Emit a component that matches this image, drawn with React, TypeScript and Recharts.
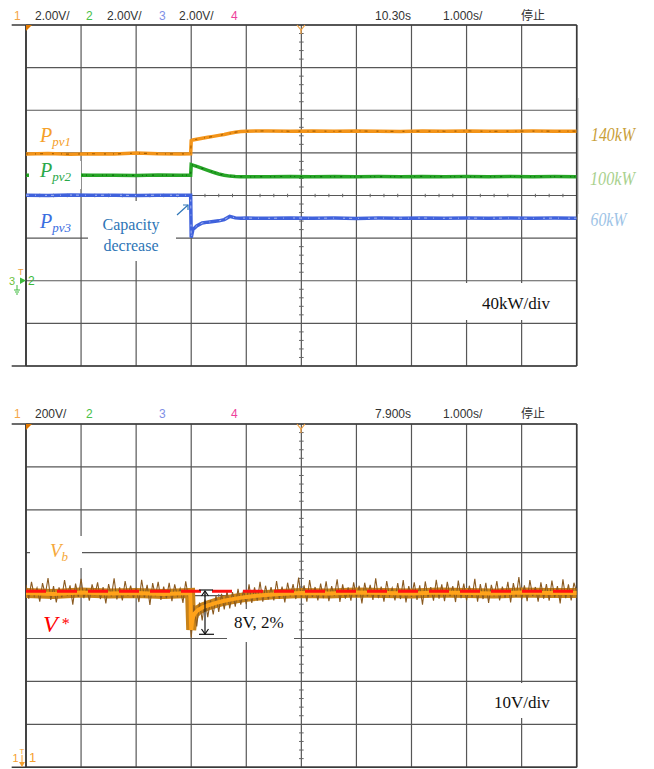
import React from 'react';
import { CartesianGrid, Line, LineChart, ReferenceLine, XAxis, YAxis } from 'recharts';

// time base 1 s/div, 10 divisions across
const divTicks = [0, 1, 2, 3, 4, 5, 6, 7, 8, 9, 10];

// upper scope: PV powers, 40kW/div
const kwTicks = [-80, -40, 0, 40, 80, 120, 160, 200, 240];
const topTime = [0, 0.4, 0.8, 1.2, 1.6, 2.0, 2.4, 2.8, 2.99, 3.0, 3.03, 3.1, 3.2, 3.3, 3.4, 3.5, 3.6, 3.7, 3.8, 3.9, 4.0, 4.4, 4.8, 5.2, 5.6, 6.0, 6.4, 6.8, 7.2, 7.6, 8.0, 8.4, 8.8, 9.2, 9.6, 10.0];
const ppv1 = [119.0, 119.3, 118.8, 119.2, 119.0, 119.8, 119.1, 119.0, 119.2, 131.5, 132.1, 132.8, 133.8, 134.6, 135.5, 136.4, 137.3, 138.4, 139.4, 140.0, 140.4, 140.6, 140.3, 140.5, 140.2, 140.6, 140.4, 140.1, 140.5, 140.3, 140.6, 140.2, 140.4, 140.5, 140.3, 140.4];
const ppv2 = [99.1, 98.9, 99.2, 99.0, 99.1, 98.8, 99.2, 99.0, 99.1, 109.0, 108.5, 107.3, 105.5, 103.6, 101.8, 100.2, 99.0, 98.2, 97.8, 97.6, 97.5, 97.7, 97.9, 97.6, 97.8, 97.5, 97.8, 97.7, 97.9, 97.6, 97.8, 97.7, 97.9, 97.6, 97.8, 97.7];
const ppv3 = [80.3, 80.1, 80.4, 80.2, 80.3, 80.0, 80.3, 80.2, 80.3, 40.5, 48.0, 51.5, 54.2, 55.0, 55.6, 56.2, 57.4, 60.4, 59.0, 58.7, 58.8, 58.6, 58.9, 58.7, 58.8, 58.5, 58.8, 58.7, 58.9, 58.6, 58.8, 58.7, 58.9, 58.6, 58.8, 58.7];

// lower scope: bus voltage, 10V/div
const voltTicks = [359, 369, 379, 389, 399, 409, 419, 429, 439];
const vbTime = [0, 0.5, 1, 1.5, 2, 2.5, 2.98, 3.0, 3.02, 3.06, 3.12, 3.2, 3.3, 3.45, 3.6, 3.8, 4.0, 4.3, 4.6, 5.0, 5.5, 6, 6.5, 7, 7.5, 8, 8.5, 9, 9.5, 10];
const vbBand = [399.6, 399.4, 399.7, 399.5, 399.6, 399.4, 399.6, 391.0, 393.5, 394.8, 395.6, 396.2, 396.7, 397.3, 397.8, 398.3, 398.7, 399.1, 399.4, 399.6, 399.5, 399.7, 399.6, 399.5, 399.7, 399.6, 399.5, 399.7, 399.6, 399.6];
// ripple samples, one every 0.05 div
const NOISE_STEP = 0.05;
const vbNoise = [
  401.5, 398.3, 402.2, 398.9, 400.8, 397.6, 401.9, 399.2, 403.1, 398.0,
  401.2, 397.4, 400.9, 398.6, 402.6, 399.0, 401.4, 396.9, 401.8, 398.7,
  402.9, 398.4, 400.7, 397.8, 401.6, 399.1, 402.1, 398.2, 401.0, 397.2,
  401.7, 398.8, 403.0, 398.1, 400.9, 397.9, 402.4, 399.0, 401.3, 398.5,
  400.8, 397.5, 402.7, 398.6, 401.5, 396.8, 401.9, 398.9, 402.2, 398.0,
  401.1, 398.4, 402.0, 397.7, 401.6, 398.9, 400.7, 397.3, 402.3, 398.6,
  389.2, 396.8, 391.8, 397.4, 393.2, 398.1, 394.0, 397.9, 394.6, 399.0,
  395.2, 399.4, 395.8, 400.1, 396.0, 399.8, 396.4, 400.6, 396.9, 400.3,
  397.0, 401.6, 397.3, 400.9, 397.8, 402.2, 397.6, 401.3, 398.1, 401.0,
  397.9, 402.4, 398.3, 401.1, 397.4, 402.0, 398.8, 401.7, 398.2, 403.2,
  398.5, 401.4, 397.6, 402.6, 398.7, 401.0, 397.9, 401.8, 398.4, 402.3,
  397.7, 401.2, 398.9, 402.8, 397.5, 401.6, 398.3, 400.9, 397.8, 402.1,
  398.6, 401.3, 397.2, 402.0, 398.8, 401.5, 398.0, 403.0, 398.4, 401.1,
  397.6, 402.4, 398.9, 400.8, 397.9, 401.9, 398.2, 402.6, 397.4, 401.2,
  398.7, 402.1, 398.0, 401.4, 396.9, 402.3, 398.6, 401.0, 397.8, 402.7,
  398.3, 401.6, 397.7, 402.2, 398.9, 401.2, 397.5, 402.5, 398.4, 401.8,
  397.9, 401.3, 398.6, 402.9, 397.6, 401.7, 398.2, 402.0, 397.3, 401.5,
  398.8, 402.4, 397.9, 401.1, 398.5, 402.2, 397.4, 401.9, 398.7, 403.3,
  398.1, 401.4, 397.7, 402.6, 398.9, 401.0, 397.6, 402.1, 398.3, 401.7,
  397.8, 402.5, 398.6, 401.2, 397.2, 402.8, 398.4, 401.6, 397.9, 402.0,
  399.8,
];
const vRefTime = [0, 10];
const vRef = [400, 400];

const zip = (ts: number[], vs: number[]) => ts.map((t, i) => ({ t, v: vs[i] }));

const pv1Data = zip(topTime, ppv1);
const pv2Data = zip(topTime, ppv2);
const pv3Data = zip(topTime, ppv3);
const bandData = zip(vbTime, vbBand);
const noiseData = vbNoise.map((v, i) => ({ t: +(i * NOISE_STEP).toFixed(2), v }));
const refData = zip(vRefTime, vRef);

const GRID = '#575757';
const BORDER = '#3a3a3a';

// scope graticule extras: border, center minor ticks
const renderGraticule = (ticks: number[], halfX: number, halfY: number) => {
  const yMin = ticks[0];
  const yMax = ticks[ticks.length - 1];
  const yStep = (ticks[1] - ticks[0]) / 5;
  const yc = ticks[4];
  const out: React.ReactNode[] = [];
  for (let i = 1; i < 40; i++) {
    if (i % 4 === 0) continue;
    const x = i * 0.25;
    out.push(
      <ReferenceLine key={'mx' + i} segment={[{ x, y: yc - halfY }, { x, y: yc + halfY }]} stroke="#666" strokeWidth={1} />
    );
  }
  for (let i = 1; i < 40; i++) {
    if (i % 5 === 0) continue;
    const y = yMin + i * yStep;
    out.push(
      <ReferenceLine key={'my' + i} segment={[{ x: 5 - halfX, y }, { x: 5 + halfX, y }]} stroke="#666" strokeWidth={1} />
    );
  }
  out.push(<ReferenceLine key="bt" segment={[{ x: -0.26, y: yMax }, { x: 10, y: yMax }]} stroke={BORDER} strokeWidth={1.6} ifOverflow="visible" />);
  out.push(<ReferenceLine key="bb" segment={[{ x: -0.26, y: yMin }, { x: 10, y: yMin }]} stroke={BORDER} strokeWidth={1.6} ifOverflow="visible" />);
  out.push(<ReferenceLine key="bl" x={0} stroke={BORDER} strokeWidth={1.8} />);
  out.push(<ReferenceLine key="br" x={10} stroke={BORDER} strokeWidth={1.6} />);
  return out;
};

const serif = '"Liberation Serif", "Times New Roman", serif';
const sans = '"Liberation Sans", Arial, sans-serif';

const Header = ({ y, ch1, time }: { y: number; ch1: string; time: string }) => (
  <g fontFamily={sans} fontSize={12} fill="#333">
    <text x={14} y={y} fill="#f5a545">1</text>
    <text x={35} y={y}>{ch1}</text>
    <text x={86} y={y} fill="#48c048">2</text>
    {ch1 === '2.00V/' && <text x={107} y={y}>2.00V/</text>}
    <text x={159} y={y} fill="#8090e6">3</text>
    {ch1 === '2.00V/' && <text x={179} y={y}>2.00V/</text>}
    <text x={231} y={y} fill="#ee3f9c">4</text>
    <text x={375} y={y}>{time}</text>
    <text x={443} y={y}>1.000s/</text>
    <text x={521} y={y} fontFamily='"Noto Sans CJK SC", sans-serif' fontSize={12}>停止</text>
  </g>
);

const Markers = ({ top }: { top: number }) => (
  <g>
    <path d={`M26,${top} L32,${top} L26,${top + 6} Z`} fill="#e07800" />
    <polyline points={`297,${top} 301,${top + 5} 305,${top}`} fill="none" stroke="#f0a040" strokeWidth={1.2} />
    <line x1={301} y1={top + 5} x2={301} y2={top + 9} stroke="#f0a040" strokeWidth={1.2} />
  </g>
);

export default function App() {
  return (
    <div style={{ position: 'absolute', left: 0, top: 0, width: 654, height: 769, background: '#fff' }}>
      <div style={{ position: 'absolute', left: 0, top: 0 }}>
        <LineChart width={654} height={400} margin={{ top: 25, left: 26, right: 77.3, bottom: 34 }}>
          <XAxis type="number" dataKey="t" domain={[0, 10]} ticks={divTicks} hide allowDataOverflow />
          <YAxis type="number" domain={[-80, 240]} ticks={kwTicks} hide allowDataOverflow />
          <CartesianGrid stroke={GRID} strokeWidth={1.2} />
          {renderGraticule(kwTicks, 0.042, 1.6)}
          <Line data={pv1Data} dataKey="v" type="linear" stroke="#f39419" strokeWidth={3.5} dot={false} isAnimationActive={false} />
          <Line data={pv1Data} dataKey="v" type="linear" stroke="#a86000" strokeWidth={1.2} strokeDasharray="2 7 1 4 3 9" dot={false} isAnimationActive={false} />
          <Line data={pv2Data} dataKey="v" type="linear" stroke="#27a527" strokeWidth={3.5} dot={false} isAnimationActive={false} />
          <Line data={pv2Data} dataKey="v" type="linear" stroke="#116811" strokeWidth={1.2} strokeDasharray="1 5 2 8 1 3" dot={false} isAnimationActive={false} />
          <Line data={pv3Data} dataKey="v" type="linear" stroke="#4062dc" strokeWidth={3.5} dot={false} isAnimationActive={false} />
          <Line data={pv3Data} dataKey="v" type="linear" stroke="#a8b8f0" strokeWidth={1} strokeDasharray="3 6 1 9 2 4" dot={false} isAnimationActive={false} />
        </LineChart>
      </div>
      <div style={{ position: 'absolute', left: 0, top: 390 }}>
        <LineChart width={654} height={379} margin={{ top: 34, left: 26, right: 77.3, bottom: 1.8 }}>
          <XAxis type="number" dataKey="t" domain={[0, 10]} ticks={divTicks} hide allowDataOverflow />
          <YAxis type="number" domain={[359, 439]} ticks={voltTicks} hide allowDataOverflow />
          <CartesianGrid stroke={GRID} strokeWidth={1.2} />
          {renderGraticule(voltTicks, 0.042, 0.38)}
          <Line data={bandData} dataKey="v" type="linear" stroke="#c88218" strokeWidth={10} dot={false} isAnimationActive={false} />
          <Line data={noiseData} dataKey="v" type="linear" stroke="#8a5a20" strokeWidth={1.1} dot={false} isAnimationActive={false} />
          <Line data={bandData} dataKey="v" type="linear" stroke="#ffa21a" strokeWidth={4} dot={false} isAnimationActive={false} />
          <Line data={refData} dataKey="v" type="linear" stroke="#ff1212" strokeWidth={3} strokeDasharray="20 11" dot={false} isAnimationActive={false} />
        </LineChart>
      </div>

      <svg width={654} height={769} style={{ position: 'absolute', left: 0, top: 0, pointerEvents: 'none' }}>
        <Header y={20} ch1="2.00V/" time="10.30s" />
        <Header y={418} ch1="200V/" time="7.900s" />
        <Markers top={25} />
        <Markers top={424} />

        {/* label boxes */}
        <rect x={29} y={161} width={52} height={28} fill="#fff" />
        <rect x={88} y={201} width={88} height={60} fill="#fff" />
        <rect x={462} y={283} width={94} height={37} fill="#fff" />
        <rect x={30} y={536} width={52} height={32} fill="#fff" />
        <rect x={227} y={609} width={67} height={33} fill="#fff" />
        <rect x={480} y={683} width={78} height={35} fill="#fff" />
        <line x1={578.5} y1={98} x2={578.5} y2={214} stroke="#d6d6d6" strokeWidth={1} />

        <g fontFamily={serif} fontStyle="italic">
          <text x={40} y={142} fontSize={20} fill="#f5a02a">P<tspan fontSize={13} dy={4}>pv1</tspan></text>
          <text x={40} y={177} fontSize={20} fill="#2aa84a">P<tspan fontSize={13} dy={4}>pv2</tspan></text>
          <text x={40} y={228} fontSize={20} fill="#3a6ee0">P<tspan fontSize={13} dy={4}>pv3</tspan></text>
          <text x={591} y={140.5} fontSize={18} fill="#c9a03a" textLength={44} lengthAdjust="spacingAndGlyphs">140kW</text>
          <text x={590} y={185} fontSize={18} fill="#a9d18e" textLength={45} lengthAdjust="spacingAndGlyphs">100kW</text>
          <text x={590.5} y={226} fontSize={18} fill="#9dc3e6" textLength={36} lengthAdjust="spacingAndGlyphs">60kW</text>
          <text x={50} y={556.7} fontSize={19} fill="#f5a83a">V<tspan fontSize={13} dy={4}>b</tspan></text>
          <text x={43} y={631.7} fontSize={24} fill="#ff0000">V</text>
          <text x={61} y={629} fontSize={16} fill="#ff0000">*</text>
        </g>
        <g fontFamily={serif} fill="#2e75b6" fontSize={16} textAnchor="middle">
          <text x={131} y={229.5}>Capacity</text>
          <text x={131} y={251}>decrease</text>
        </g>
        <g stroke="#2e75b6" strokeWidth={1.2} fill="none">
          <line x1={177} y1={215} x2={188} y2={205} />
          <polyline points="183,205 188,205 188,210" />
        </g>
        <g fontFamily={serif} fontSize={17} fill="#111">
          <text x={482} y={309}>40kW/div</text>
          <text x={494} y={707.5}>10V/div</text>
          <text x={234} y={628.3}>8V, 2%</text>
        </g>

        {/* 8V dip arrow */}
        <g stroke="#111" strokeWidth={1.2} fill="none">
          <line x1={205} y1={591} x2={205} y2={634} />
          <line x1={199} y1={634.3} x2={214} y2={634.3} />
          <line x1={199} y1={590} x2={213} y2={590} />
          <polyline points="201.5,596 205,591 208.5,596" />
          <polyline points="201.5,629 205,634 208.5,629" />
        </g>

        {/* channel ground markers */}
        <g fontFamily={sans}>
          <text x={18} y={275} fontSize={9} fill="#f0a040">T</text>
          <text x={9} y={285} fontSize={11} fill="#6cbf3c">3</text>
          <path d="M20,277.5 L26,280.6 L20,284 Z" fill="#3cba3c" />
          <g stroke="#3cba3c" strokeWidth={1}>
            <line x1={17} y1={285} x2={17} y2={290} />
            <line x1={14} y1={290} x2={20} y2={290} />
            <line x1={15} y1={292} x2={19} y2={292} />
            <line x1={16} y1={294} x2={18} y2={294} />
          </g>
          <text x={28} y={285} fontSize={12} fill="#3cba3c">2</text>
          <text x={12.5} y={762} fontSize={11} fill="#f5a030">1</text>
          <text x={19.5} y={754} fontSize={8} fill="#f5a030">T</text>
          <line x1={22} y1={755} x2={22} y2={763} stroke="#f5a030" strokeWidth={1} />
          <path d="M19,762 L22,767 L25,762 Z" fill="#f5a030" />
          <text x={29} y={762} fontSize={13} fill="#f5a030">1</text>
        </g>
      </svg>
    </div>
  );
}
